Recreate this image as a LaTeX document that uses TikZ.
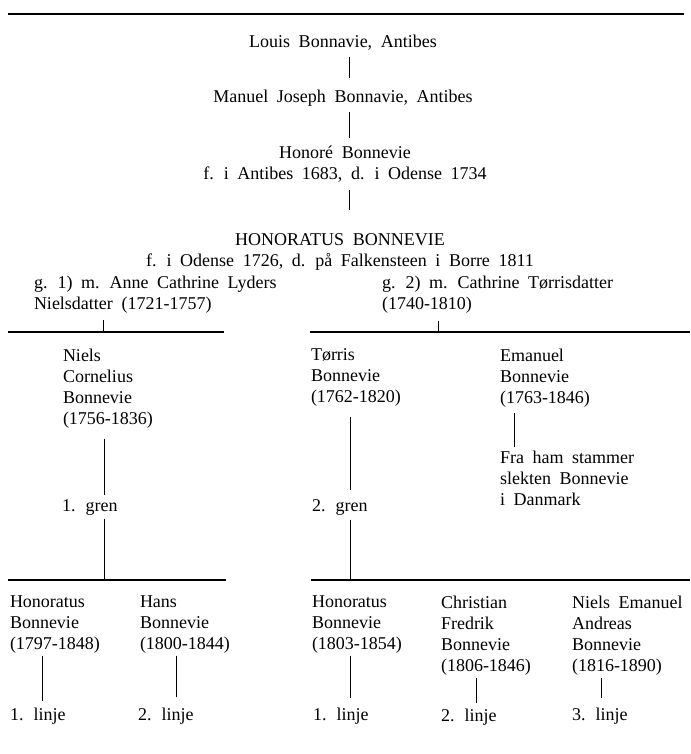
\documentclass[tikz,border=0pt]{standalone}
\usepackage{fontspec}
\setmainfont{Liberation Serif}[WordSpace=1.9]
\newcommand{\txtfont}{\fontsize{18}{21}\selectfont}
\begin{document}
\begin{tikzpicture}[x=1pt,y=-1pt,
  txt/.style={inner sep=0pt, outer sep=0pt, font=\txtfont, align=left, anchor=north west},
  ctxt/.style={inner sep=0pt, outer sep=0pt, font=\txtfont, align=center, anchor=north},
  conn/.style={line width=0.9pt},
  bar/.style={line width=1.4pt}]
\useasboundingbox (0,0) rectangle (690,754);
% top rule
\coordinate (ruleL) at (8,14);
\coordinate (ruleR) at (684,14);
\draw[bar] (ruleL) -- (ruleR);
% ancestors
\node[ctxt] (louis) at (343,35) {Louis Bonnavie, Antibes};
\node[ctxt] (manuel) at (343,90) {Manuel Joseph Bonnavie, Antibes};
\node[ctxt] (honore) at (345,146) {Honoré Bonnevie\\f. i Antibes 1683, d. i Odense 1734};
\node[ctxt] (honoratus) at (340,234) {HONORATUS BONNEVIE\\f. i Odense 1726, d. på Falkensteen i Borre 1811};
\node[txt] (g1) at (34,276) {g. 1) m. Anne Cathrine Lyders\\Nielsdatter (1721-1757)};
\node[txt] (g2) at (382,276) {g. 2) m. Cathrine Tørrisdatter\\(1740-1810)};
\coordinate (spine) at (349,0);
\draw[conn, shorten <=7pt, shorten >=12pt] (louis.south -| spine) -- (manuel.north -| spine);
\draw[conn, shorten <=6pt, shorten >=8pt] (manuel.south -| spine) -- (honore.north -| spine);
\draw[conn, shorten <=8pt, shorten >=24pt] (honore.south -| spine) -- (honoratus.north -| spine);
% second level bars
\coordinate (barAl) at (8,332);
\coordinate (barAr) at (224,332);
\coordinate (barBl) at (310,332);
\coordinate (barBr) at (690,332);
\draw[bar] (barAl) -- (barAr);
\draw[bar] (barBl) -- (barBr);
\coordinate (tickA) at (103,332);
\coordinate (tickB) at (438,332);
\draw[conn, shorten <=7pt] (g1.south -| tickA) -- (tickA);
\draw[conn, shorten <=8pt] (g2.south -| tickB) -- (tickB);
% second generation
\node[txt] (niels) at (63,349) {Niels\\Cornelius\\Bonnevie\\(1756-1836)};
\node[txt] (gren1) at (62,500) {1. gren};
\node[txt] (torris) at (311,349) {Tørris\\Bonnevie\\(1762-1820)};
\node[txt] (gren2) at (312,500) {2. gren};
\node[txt] (emanuel) at (500,349) {Emanuel\\Bonnevie\\(1763-1846)};
\node[txt] (fra) at (500,451) {Fra ham stammer\\slekten Bonnevie\\i Danmark};
\coordinate (cA) at (104,580);
\coordinate (cB) at (350,580);
\coordinate (cE) at (514,0);
\draw[conn, shorten <=11pt, shorten >=5pt] (niels.south -| cA) -- (gren1.north -| cA);
\draw[conn, shorten <=3pt] (gren1.south -| cA) -- (cA);
\draw[conn, shorten <=10pt, shorten >=10pt] (torris.south -| cB) -- (gren2.north -| cB);
\draw[conn, shorten <=4pt] (gren2.south -| cB) -- (cB);
\draw[conn, shorten <=6pt, shorten >=4pt] (emanuel.south -| cE) -- (fra.north -| cE);
% bottom bars
\coordinate (barCl) at (8,580);
\coordinate (barCr) at (226,580);
\coordinate (barDl) at (311,580);
\coordinate (barDr) at (690,580);
\draw[bar] (barCl) -- (barCr);
\draw[bar] (barDl) -- (barDr);
% third generation
\node[txt] (b1) at (10,596) {Honoratus\\Bonnevie\\(1797-1848)};
\node[txt] (b2) at (140,596) {Hans\\Bonnevie\\(1800-1844)};
\node[txt] (b3) at (312,596) {Honoratus\\Bonnevie\\(1803-1854)};
\node[txt] (b4) at (441,596) {Christian\\Fredrik\\Bonnevie\\(1806-1846)};
\node[txt] (b5) at (572,596) {Niels Emanuel\\Andreas\\Bonnevie\\(1816-1890)};
\node[txt] (l1) at (10,708) {1. linje};
\node[txt] (l2) at (138,708) {2. linje};
\node[txt] (l3) at (313,708) {1. linje};
\node[txt] (l4) at (441,709) {2. linje};
\node[txt] (l5) at (572,708) {3. linje};
\coordinate (x1) at (42,0);
\coordinate (x2) at (176,0);
\coordinate (x3) at (350,0);
\coordinate (x4) at (476,0);
\coordinate (x5) at (601,0);
\draw[conn, shorten <=2pt, shorten >=7pt] (b1.south -| x1) -- (l1.north -| x1);
\draw[conn, shorten <=2pt, shorten >=11pt] (b2.south -| x2) -- (l2.north -| x2);
\draw[conn, shorten <=2pt, shorten >=10pt] (b3.south -| x3) -- (l3.north -| x3);
\draw[conn, shorten <=3pt, shorten >=6pt] (b4.south -| x4) -- (l4.north -| x4);
\draw[conn, shorten <=3pt, shorten >=10pt] (b5.south -| x5) -- (l5.north -| x5);
\end{tikzpicture}
\end{document}
